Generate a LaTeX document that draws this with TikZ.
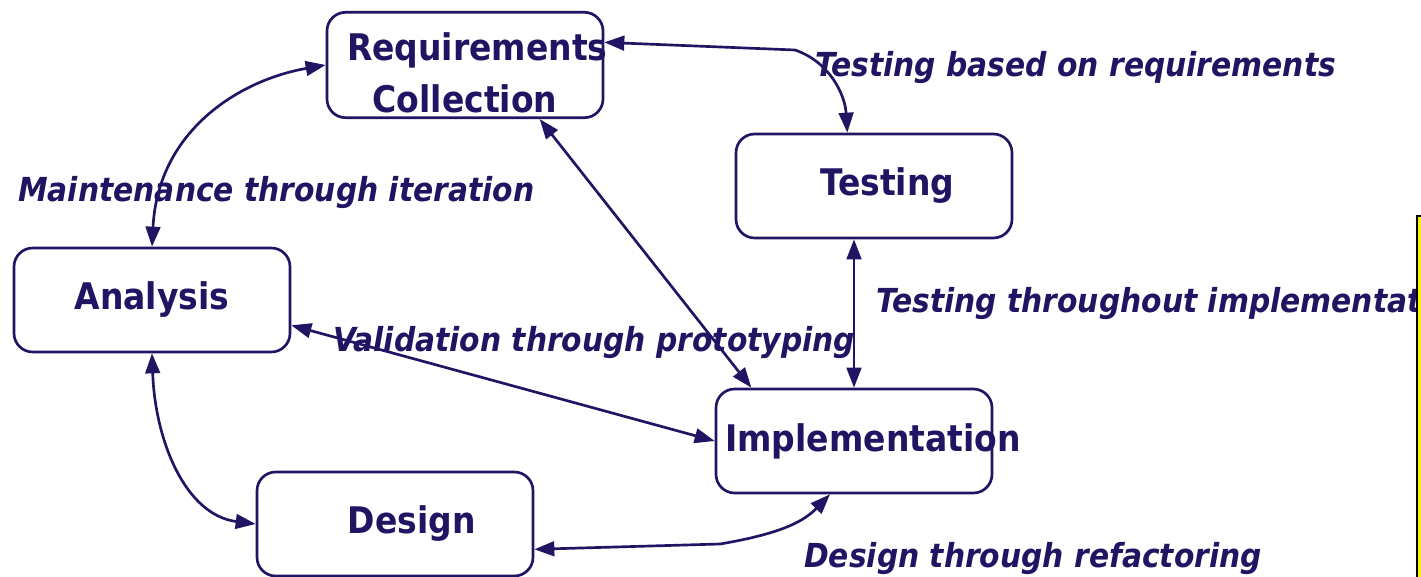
\documentclass[tikz,border=0pt]{standalone}
\usepackage{fontspec}
\setmainfont{DejaVu Sans Condensed}
\usepackage{tikz}
\usetikzlibrary{arrows.meta}
\definecolor{ink}{HTML}{1F1563}
\tikzset{
    phase/.style={draw=ink, line width=2pt, rectangle, rounded corners=14pt, fill=white, minimum width=207pt, minimum height=78pt, text width=193pt, inner xsep=7pt, align=center, text=ink, font=\fontsize{27.5}{39}\selectfont\bfseries},
    note/.style={text=ink, inner sep=0pt, anchor=base west, font=\fontsize{24.8}{29}\selectfont\bfseries\itshape},
    arrow/.style={draw=ink, line width=2pt, {Triangle[length=15pt, width=11pt]}-{Triangle[length=15pt, width=11pt]}}
}

\begin{document}
\begin{tikzpicture}[x=0.75pt, y=-0.75pt]
\clip (0,0) rectangle (1421,577);
\node[phase] (req) at (465,65) {\mbox{\rule{0pt}{33pt}\hspace*{8pt}Requirements}\\Collection};
\node[phase] (test) at (874,186) {\hspace*{20pt}Testing};
\node[phase] (ana) at (152,300) {Analysis};
\node[phase] (impl) at (854,441) {Implementation};
\node[phase] (des) at (395,524) {\hspace*{25pt}Design};
\draw[arrow] (req.west) .. controls (240,80) and (158,130) .. (ana.north);
\draw[arrow] ([yshift=17pt]req.east) -- (795,50) .. controls (830,62) and (845,95) .. ([xshift=-20pt]test.north);
\draw[arrow] ([xshift=56pt]req.south) -- ([xshift=-77pt]impl.north);
\draw[arrow] (impl.north) -- (impl.north |- test.south);
\draw[arrow] ([yshift=-19pt]ana.east) -- (impl.west);
\draw[arrow] (ana.south) .. controls (155,440) and (185,515) .. (des.west);
\draw[arrow] ([yshift=-19pt]des.east) -- (720,544) .. controls (785,533) and (805,520) .. ([xshift=-18pt]impl.south);
\node[note] (lreq) at (815,77) {Testing based on requirements};
\node[note] (lmaint) at (18,202) {Maintenance through iteration};
\node[note] (ltest) at (876,313) {Testing throughout implementation};
\node[note] (lvalid) at (333,351) {Validation through prototyping};
\node[note] (lrefac) at (804,567) {Design through refactoring};
% frame standing at the right margin
\filldraw[fill=yellow, draw=black, line width=1.5pt] (1417,216) rectangle (1460,600);
\end{tikzpicture}
\end{document}
